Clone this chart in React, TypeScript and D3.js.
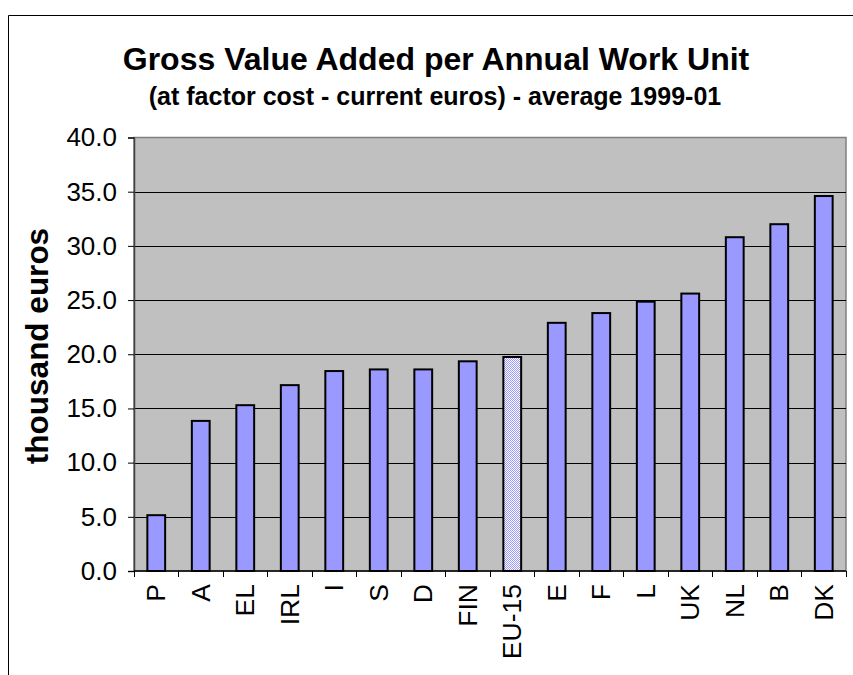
import React, { useRef, useEffect } from 'react';
import * as d3 from 'd3';

const countries = ['P', 'A', 'EL', 'IRL', 'I', 'S', 'D', 'FIN', 'EU-15', 'E', 'F', 'L', 'UK', 'NL', 'B', 'DK'];
const gvaPerAwu = [5.15, 13.85, 15.3, 17.15, 18.45, 18.6, 18.6, 19.35, 19.75, 22.9, 23.8, 24.85, 25.6, 30.8, 32.0, 34.6];
const yTicks = [0, 5, 10, 15, 20, 25, 30, 35, 40];
const highlight = 'EU-15';

const title = 'Gross Value Added per Annual Work Unit';
const subtitle = '(at factor cost - current euros) - average 1999-01';
const yLabel = 'thousand euros';

const font = '"Liberation Sans", Arial, sans-serif';

const App = () => {
  const ref = useRef<SVGSVGElement | null>(null);

  useEffect(() => {
    if (!ref.current) return;
    const svg = d3.select(ref.current);
    svg.selectAll('*').remove();

    const plot = { left: 134, right: 846, top: 137.5, bottom: 571 };

    // checker pattern for the EU-15 bar
    const defs = svg.append('defs');
    const pat = defs.append('pattern')
      .attr('id', 'checker')
      .attr('width', 2).attr('height', 2)
      .attr('patternUnits', 'userSpaceOnUse');
    pat.append('rect').attr('width', 2).attr('height', 2).attr('fill', '#ffffff');
    pat.append('rect').attr('width', 1).attr('height', 1).attr('fill', '#9999ff');
    pat.append('rect').attr('x', 1).attr('y', 1).attr('width', 1).attr('height', 1).attr('fill', '#9999ff');

    // outer chart frame (cut off at right and bottom)
    svg.append('path')
      .attr('d', 'M8.5,675 V15.5 H853')
      .attr('fill', 'none')
      .attr('stroke', '#000')
      .attr('stroke-width', 1);

    const x = d3.scaleBand<string>()
      .domain(countries)
      .range([plot.left, plot.right])
      .paddingInner(0.6)
      .paddingOuter(0.3);

    const y = d3.scaleLinear()
      .domain([0, 40])
      .range([plot.bottom, plot.top]);

    // plot area
    svg.append('rect')
      .attr('x', plot.left).attr('y', plot.top)
      .attr('width', plot.right - plot.left)
      .attr('height', plot.bottom - plot.top)
      .attr('fill', '#c0c0c0')
      .attr('stroke', '#808080')
      .attr('stroke-width', 1.5);

    // gridlines
    svg.append('g')
      .selectAll('line')
      .data(yTicks.filter(t => t > 0 && t < 40))
      .enter()
      .append('line')
      .attr('x1', plot.left).attr('x2', plot.right)
      .attr('y1', d => Math.round(y(d)) + 0.5)
      .attr('y2', d => Math.round(y(d)) + 0.5)
      .attr('stroke', '#000')
      .attr('stroke-width', 1);

    // bars
    svg.append('g')
      .selectAll('rect')
      .data(countries.map((c, i) => ({ c, v: gvaPerAwu[i] })))
      .enter()
      .append('rect')
      .attr('x', d => x(d.c) as number)
      .attr('y', d => y(d.v))
      .attr('width', x.bandwidth())
      .attr('height', d => y(0) - y(d.v))
      .attr('fill', d => (d.c === highlight ? 'url(#checker)' : '#9999ff'))
      .attr('stroke', '#000')
      .attr('stroke-width', 2);

    // y axis
    const yAxis = svg.append('g')
      .attr('transform', `translate(${plot.left},0)`)
      .call(d3.axisLeft(y).tickValues(yTicks).tickSize(6).tickPadding(11).tickFormat(d3.format('.1f')));
    yAxis.select('.domain').attr('stroke', '#404040').attr('stroke-width', 1.5);
    yAxis.selectAll('.tick line').attr('stroke', '#000');
    yAxis.selectAll('.tick text')
      .attr('font-family', font)
      .attr('font-size', 26)
      .attr('fill', '#000');

    // x axis (ticks between categories)
    const step = x.step();
    const boundaries = countries.map(c => (x(c) as number) - step * 0.3).concat([plot.right]);
    svg.append('line')
      .attr('x1', plot.left).attr('x2', plot.right)
      .attr('y1', plot.bottom).attr('y2', plot.bottom)
      .attr('stroke', '#000').attr('stroke-width', 1.5);
    svg.append('g')
      .selectAll('line')
      .data(boundaries)
      .enter()
      .append('line')
      .attr('x1', d => Math.round(d) + 0.5).attr('x2', d => Math.round(d) + 0.5)
      .attr('y1', plot.bottom).attr('y2', plot.bottom + 6)
      .attr('stroke', '#000');

    svg.append('g')
      .selectAll('text')
      .data(countries)
      .enter()
      .append('text')
      .attr('transform', d => `translate(${(x(d) as number) + x.bandwidth() / 2 + 9},${plot.bottom + 13}) rotate(-90)`)
      .attr('text-anchor', 'end')
      .attr('font-family', font)
      .attr('font-size', 26.5)
      .text(d => d);

    // y label
    svg.append('text')
      .attr('transform', `translate(48,346) rotate(-90)`)
      .attr('text-anchor', 'middle')
      .attr('font-family', font)
      .attr('font-size', 31.5)
      .attr('font-weight', 'bold')
      .text(yLabel);

    // titles
    svg.append('text')
      .attr('x', 436).attr('y', 70)
      .attr('text-anchor', 'middle')
      .attr('font-family', font)
      .attr('font-size', 32)
      .attr('font-weight', 'bold')
      .text(title);
    svg.append('text')
      .attr('x', 435).attr('y', 105)
      .attr('text-anchor', 'middle')
      .attr('font-family', font)
      .attr('font-size', 25)
      .attr('font-weight', 'bold')
      .text(subtitle);
  }, []);

  return (
    <svg
      ref={ref}
      width={853}
      height={675}
      style={{ position: 'absolute', left: 0, top: 0, background: '#fff' }}
    />
  );
};

export default App;
